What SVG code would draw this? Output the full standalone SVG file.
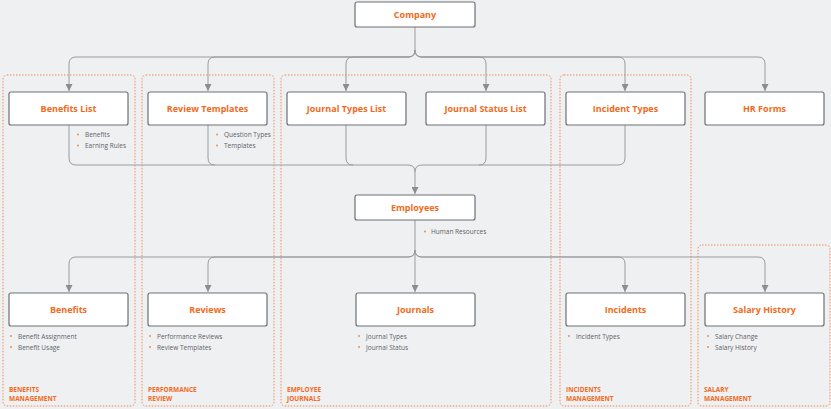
<svg xmlns="http://www.w3.org/2000/svg" width="831" height="409" viewBox="0 0 831 409">
<defs>
<marker id="ar" markerWidth="8" markerHeight="8" refX="4" refY="6" orient="auto" markerUnits="userSpaceOnUse"><path d="M0,0 L8,0 L4,7 Z" fill="#8a8d91" transform="rotate(-90 4 4)"/></marker>
<marker id="a" viewBox="0 0 10 10" refX="10" refY="5" markerWidth="7" markerHeight="7" orient="auto" markerUnits="userSpaceOnUse"><path d="M0,0 L10,5 L0,10 Z" fill="#8a8d91"/></marker>
<style>
.grp{fill:none;stroke:#f28a5c;stroke-width:1;stroke-dasharray:1.5 1.5}
.box{fill:#fff;stroke:#6d7075;stroke-width:1.2}
.t{font-family:"Open Sans",sans-serif;font-weight:bold;font-size:9px;fill:#f26a21;text-anchor:middle}
.b{font-family:"Open Sans",sans-serif;font-size:6.5px;fill:#5f6368}
.d{fill:#f28a5c}
.g{font-family:"Open Sans",sans-serif;font-weight:bold;font-size:6.5px;fill:#f26a21}
.c{fill:none;stroke:#9a9da1;stroke-width:1}
</style>
</defs>
<rect width="831" height="409" fill="#eff0f2"/>
<g id="groups">
<rect class="grp" x="3" y="75" width="132" height="331" rx="4"/>
<rect class="grp" x="142" y="75" width="132" height="331" rx="4"/>
<rect class="grp" x="281" y="75" width="270" height="331" rx="4"/>
<rect class="grp" x="560" y="75" width="131" height="331" rx="4"/>
<rect class="grp" x="698" y="245" width="132" height="161" rx="4"/>
<text class="g" x="9" y="392">BENEFITS</text><text class="g" x="9" y="401">MANAGEMENT</text>
<text class="g" x="148" y="392">PERFORMANCE</text><text class="g" x="148" y="401">REVIEW</text>
<text class="g" x="287" y="392">EMPLOYEE</text><text class="g" x="287" y="401">JOURNALS</text>
<text class="g" x="566" y="392">INCIDENTS</text><text class="g" x="566" y="401">MANAGEMENT</text>
<text class="g" x="704" y="392">SALARY</text><text class="g" x="704" y="401">MANAGEMENT</text>
</g>
<g id="connectors">
<path class="c" d="M415,27 V50 Q415,57 408,57 H76 Q69,57 69,64 V91" marker-end="url(#a)"/>
<path class="c" d="M415,50 Q415,57 408,57 H215 Q208,57 208,64 V91" marker-end="url(#a)"/>
<path class="c" d="M415,50 Q415,57 408,57 H353 Q346,57 346,64 V91" marker-end="url(#a)"/>
<path class="c" d="M415,50 Q415,57 422,57 H479 Q486,57 486,64 V91" marker-end="url(#a)"/>
<path class="c" d="M415,50 Q415,57 422,57 H618 Q625,57 625,64 V91" marker-end="url(#a)"/>
<path class="c" d="M415,50 Q415,57 422,57 H758 Q765,57 765,64 V91" marker-end="url(#a)"/>
<path class="c" d="M69,125 V158 Q69,165 76,165 H408 Q415,165 415,172 V194" marker-end="url(#a)"/>
<path class="c" d="M208,125 V158 Q208,165 215,165"/>
<path class="c" d="M346,125 V158 Q346,165 353,165"/>
<path class="c" d="M486,125 V158 Q486,165 479,165 H422 Q415,165 415,172"/>
<path class="c" d="M625,125 V158 Q625,165 618,165 H479"/>
<path class="c" d="M415,220 V250 Q415,257 408,257 H76 Q69,257 69,264 V292" marker-end="url(#a)"/>
<path class="c" d="M415,250 Q415,257 408,257 H215 Q208,257 208,264 V292" marker-end="url(#a)"/>
<path class="c" d="M415,250 V292" marker-end="url(#a)"/>
<path class="c" d="M415,250 Q415,257 422,257 H618 Q625,257 625,264 V292" marker-end="url(#a)"/>
<path class="c" d="M415,250 Q415,257 422,257 H758 Q765,257 765,264 V292" marker-end="url(#a)"/>
</g>
<g id="company"><rect class="box" x="355" y="2" width="120" height="25" rx="2"/><text class="t" x="415" y="18">Company</text></g>
<g id="benefits-list"><rect class="box" x="9" y="92" width="119" height="33" rx="2"/><text class="t" x="68.5" y="111.5">Benefits List</text>
<circle class="d" cx="78" cy="134.5" r="1"/><text class="b" x="85" y="137">Benefits</text>
<circle class="d" cx="78" cy="145.5" r="1"/><text class="b" x="85" y="148">Earning Rules</text></g>
<g id="review-templates"><rect class="box" x="148" y="92" width="119" height="33" rx="2"/><text class="t" x="207.5" y="111.5">Review Templates</text>
<circle class="d" cx="217" cy="134.5" r="1"/><text class="b" x="224" y="137">Question Types</text>
<circle class="d" cx="217" cy="145.5" r="1"/><text class="b" x="224" y="148">Templates</text></g>
<g id="journal-types-list"><rect class="box" x="287" y="92" width="119" height="33" rx="2"/><text class="t" x="346.5" y="111.5">Journal Types List</text></g>
<g id="journal-status-list"><rect class="box" x="426" y="92" width="119" height="33" rx="2"/><text class="t" x="485.5" y="111.5">Journal Status List</text></g>
<g id="incident-types"><rect class="box" x="566" y="92" width="119" height="33" rx="2"/><text class="t" x="625.5" y="111.5">Incident Types</text></g>
<g id="hr-forms"><rect class="box" x="705" y="92" width="119" height="33" rx="2"/><text class="t" x="764.5" y="111.5">HR Forms</text></g>
<g id="employees"><rect class="box" x="355" y="195" width="120" height="25" rx="2"/><text class="t" x="415" y="211">Employees</text>
<circle class="d" cx="425" cy="231.5" r="1"/><text class="b" x="431" y="234">Human Resources</text></g>
<g id="benefits"><rect class="box" x="9" y="293" width="119" height="33" rx="2"/><text class="t" x="68.5" y="312.5">Benefits</text>
<circle class="d" cx="11" cy="336" r="1"/><text class="b" x="18" y="338.5">Benefit Assignment</text>
<circle class="d" cx="11" cy="347" r="1"/><text class="b" x="18" y="349.5">Benefit Usage</text></g>
<g id="reviews"><rect class="box" x="148" y="293" width="119" height="33" rx="2"/><text class="t" x="207.5" y="312.5">Reviews</text>
<circle class="d" cx="150" cy="336" r="1"/><text class="b" x="157" y="338.5">Performance Reviews</text>
<circle class="d" cx="150" cy="347" r="1"/><text class="b" x="157" y="349.5">Review Templates</text></g>
<g id="journals"><rect class="box" x="356" y="293" width="119" height="33" rx="2"/><text class="t" x="415.5" y="312.5">Journals</text>
<circle class="d" cx="359" cy="336" r="1"/><text class="b" x="366" y="338.5">Journal Types</text>
<circle class="d" cx="359" cy="347" r="1"/><text class="b" x="366" y="349.5">Journal Status</text></g>
<g id="incidents"><rect class="box" x="566" y="293" width="119" height="33" rx="2"/><text class="t" x="625.5" y="312.5">Incidents</text>
<circle class="d" cx="569" cy="336" r="1"/><text class="b" x="576" y="338.5">Incident Types</text></g>
<g id="salary-history"><rect class="box" x="705" y="293" width="119" height="33" rx="2"/><text class="t" x="764.5" y="312.5">Salary History</text>
<circle class="d" cx="708" cy="336" r="1"/><text class="b" x="715" y="338.5">Salary Change</text>
<circle class="d" cx="708" cy="347" r="1"/><text class="b" x="715" y="349.5">Salary History</text></g>
</svg>
